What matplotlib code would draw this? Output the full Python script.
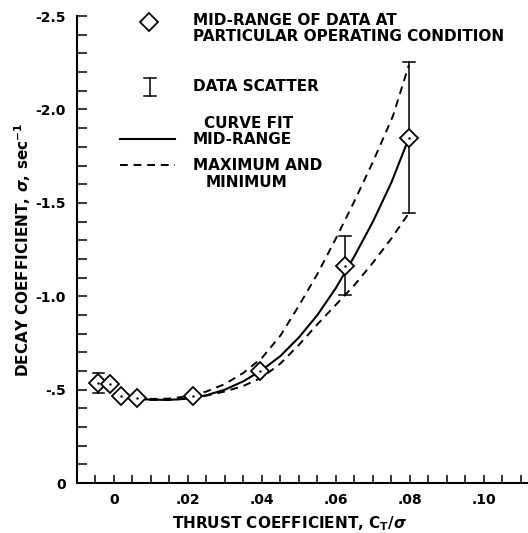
import matplotlib
matplotlib.use("Agg")
import matplotlib.pyplot as plt
from matplotlib.ticker import MultipleLocator, FixedLocator

plt.rcParams['font.family'] = ['DejaVu Sans']
plt.rcParams['font.weight'] = 'bold'
plt.rcParams['axes.labelweight'] = 'bold'
plt.rcParams['mathtext.fontset'] = 'dejavusans'

# data points (mid-range) and scatter
pt_x = [-0.0042, -0.0011, 0.0019, 0.0061, 0.0213, 0.0395, 0.0624, 0.0797]
pt_y = [-0.537, -0.530, -0.466, -0.453, -0.467, -0.600, -1.160, -1.847]

bar_x = [-0.0042, 0.0624, 0.0797]
bar_lo = [-0.482, -1.006, -1.445]
bar_hi = [-0.589, -1.322, -2.254]

# curve fits
mid_x = [0.006, 0.010, 0.015, 0.020, 0.025, 0.030, 0.035, 0.040, 0.045, 0.050,
         0.055, 0.060, 0.065, 0.070, 0.075, 0.0797]
mid_y = [-0.452, -0.446, -0.445, -0.452, -0.470, -0.500, -0.545, -0.605, -0.680, -0.780,
         -0.900, -1.045, -1.215, -1.400, -1.610, -1.847]

max_x = [0.006, 0.010, 0.015, 0.020, 0.025, 0.030, 0.035, 0.040, 0.045, 0.050,
         0.055, 0.060, 0.065, 0.070, 0.0754, 0.0797]
max_y = [-0.458, -0.450, -0.452, -0.465, -0.490, -0.530, -0.590, -0.670, -0.790, -0.950,
         -1.120, -1.310, -1.510, -1.720, -1.965, -2.238]

min_x = [0.006, 0.010, 0.015, 0.020, 0.025, 0.030, 0.035, 0.040, 0.045, 0.050,
         0.055, 0.060, 0.065, 0.070, 0.075, 0.0797]
min_y = [-0.450, -0.445, -0.445, -0.452, -0.468, -0.490, -0.520, -0.565, -0.640, -0.740,
         -0.850, -0.955, -1.060, -1.180, -1.310, -1.445]

xtick_vals = [0, 0.02, 0.04, 0.06, 0.08, 0.10]
xtick_labels = ['0', '.02', '.04', '.06', '.08', '.10']
ytick_vals = [-2.5, -2.0, -1.5, -1.0, -0.5, 0]
ytick_labels = ['-2.5', '-2.0', '-1.5', '-1.0', '-.5', '0']

fig = plt.figure(figsize=(5.28, 5.33), dpi=100)
ax = fig.add_axes([0.1458, 0.0938, 0.8542, 0.876])

dash = (0, (4, 3))
ax.plot(mid_x, mid_y, color='black', lw=1.5)
ax.plot(max_x, max_y, color='black', lw=1.4, ls=dash)
ax.plot(min_x, min_y, color='black', lw=1.4, ls=dash)

cap = 0.0016
for x, lo, hi in zip(bar_x, bar_lo, bar_hi):
    ax.plot([x, x], [lo, hi], color='black', lw=1.1)
    ax.plot([x - cap, x + cap], [lo, lo], color='black', lw=1.1)
    ax.plot([x - cap, x + cap], [hi, hi], color='black', lw=1.1)

ax.plot(pt_x, pt_y, ls='none', marker='D', ms=9, mfc='white', mec='black', mew=1.3, zorder=5)
ax.plot(pt_x, pt_y, ls='none', marker='.', ms=1.5, color='black', zorder=6)

ax.set_xlim(-0.0100, 0.1119)
ax.set_ylim(0, -2.5)

ax.spines['top'].set_visible(False)
ax.spines['right'].set_visible(False)
ax.spines['left'].set_linewidth(1.5)
ax.spines['bottom'].set_linewidth(1.5)

ax.xaxis.set_major_locator(FixedLocator(xtick_vals))
ax.set_xticklabels(xtick_labels)
ax.xaxis.set_minor_locator(MultipleLocator(0.005))
ax.yaxis.set_major_locator(FixedLocator(ytick_vals))
ax.set_yticklabels(ytick_labels)
ax.yaxis.set_minor_locator(MultipleLocator(0.1))
ax.tick_params(axis='y', which='both', direction='in', width=1.1, length=7, labelsize=10, pad=8)
ax.tick_params(axis='x', which='both', direction='in', width=1.1, length=6, labelsize=10, pad=7)

ax.set_xlabel(r'THRUST COEFFICIENT, C$_\mathbf{T}$/$\sigma$', fontsize=11)
ax.xaxis.set_label_coords(0.472, -0.068)
ax.set_ylabel(r'DECAY COEFFICIENT, $\sigma$, sec$^{-1}$', fontsize=11)
ax.yaxis.set_label_coords(-0.097, 0.5)

# legend drawn by hand in axes-fraction coordinates
def fx(px):
    return (px - 77) / 451.0

def fy(py):
    return (483 - py) / 467.0

kw = dict(transform=ax.transAxes, fontsize=11, va='center', clip_on=False)
ax.plot([fx(149)], [fy(22)], marker='D', ms=9, mfc='white', mec='black', mew=1.3,
        transform=ax.transAxes, clip_on=False)
ax.text(fx(193), fy(20), 'MID-RANGE OF DATA AT', **kw)
ax.text(fx(193), fy(36), 'PARTICULAR OPERATING CONDITION', **kw)

ax.plot([fx(150), fx(150)], [fy(78), fy(96)], color='black', lw=1.1, transform=ax.transAxes)
ax.plot([fx(144), fx(156)], [fy(78), fy(78)], color='black', lw=1.1, transform=ax.transAxes)
ax.plot([fx(144), fx(156)], [fy(96), fy(96)], color='black', lw=1.1, transform=ax.transAxes)
ax.text(fx(193), fy(86), 'DATA SCATTER', **kw)

ax.text(fx(249), fy(123), 'CURVE FIT', ha='center', **kw)
ax.plot([fx(120), fx(175)], [fy(139), fy(139)], color='black', lw=1.5, transform=ax.transAxes)
ax.text(fx(193), fy(139), 'MID-RANGE', **kw)
ax.plot([fx(120), fx(175)], [fy(165), fy(165)], color='black', lw=1.4, ls=dash,
        transform=ax.transAxes)
ax.text(fx(193), fy(165), 'MAXIMUM AND', **kw)
ax.text(fx(247), fy(182), 'MINIMUM', ha='center', **kw)

fig.savefig('out.png', dpi=100)
